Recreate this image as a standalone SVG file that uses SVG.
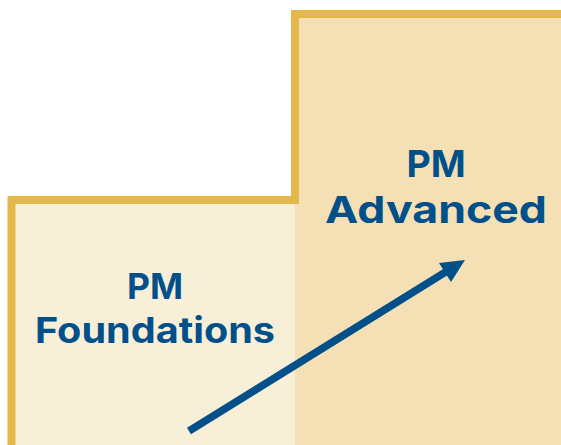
<svg xmlns="http://www.w3.org/2000/svg" width="561" height="445" viewBox="0 0 561 445">
<style>
.lbl{font-family:Inter,"Liberation Sans",sans-serif;font-weight:700;fill:#02508A;text-anchor:middle}
.arrow{fill:#02508A}
</style>
<rect width="561" height="445" fill="#FFFFFF"/>
<g id="foundations">
<rect x="11.5" y="200" width="284" height="245" fill="#F8EFD9"/>
<text class="lbl" x="155" y="299" font-size="35.5">PM</text>
<text class="lbl" x="155" y="343" font-size="35.5" textLength="240" lengthAdjust="spacingAndGlyphs">Foundations</text>
</g>
<g id="advanced">
<rect x="295" y="14" width="266" height="431" fill="#F5E0B6"/>
<text class="lbl" x="436" y="177" font-size="37.5">PM</text>
<text class="lbl" x="436" y="223" font-size="37.5" textLength="222" lengthAdjust="spacingAndGlyphs">Advanced</text>
</g>
<g id="border">
<path d="M11.5,445 V200 H295 V14 H565" fill="none" stroke="#E5B84B" stroke-width="8"/>
</g>
<g id="connectors">
<line x1="189" y1="431" x2="448" y2="270.5" stroke="#02508A" stroke-width="7.5"/>
<polygon class="arrow" points="465,260 439,263 451,282"/>
</g>
</svg>
